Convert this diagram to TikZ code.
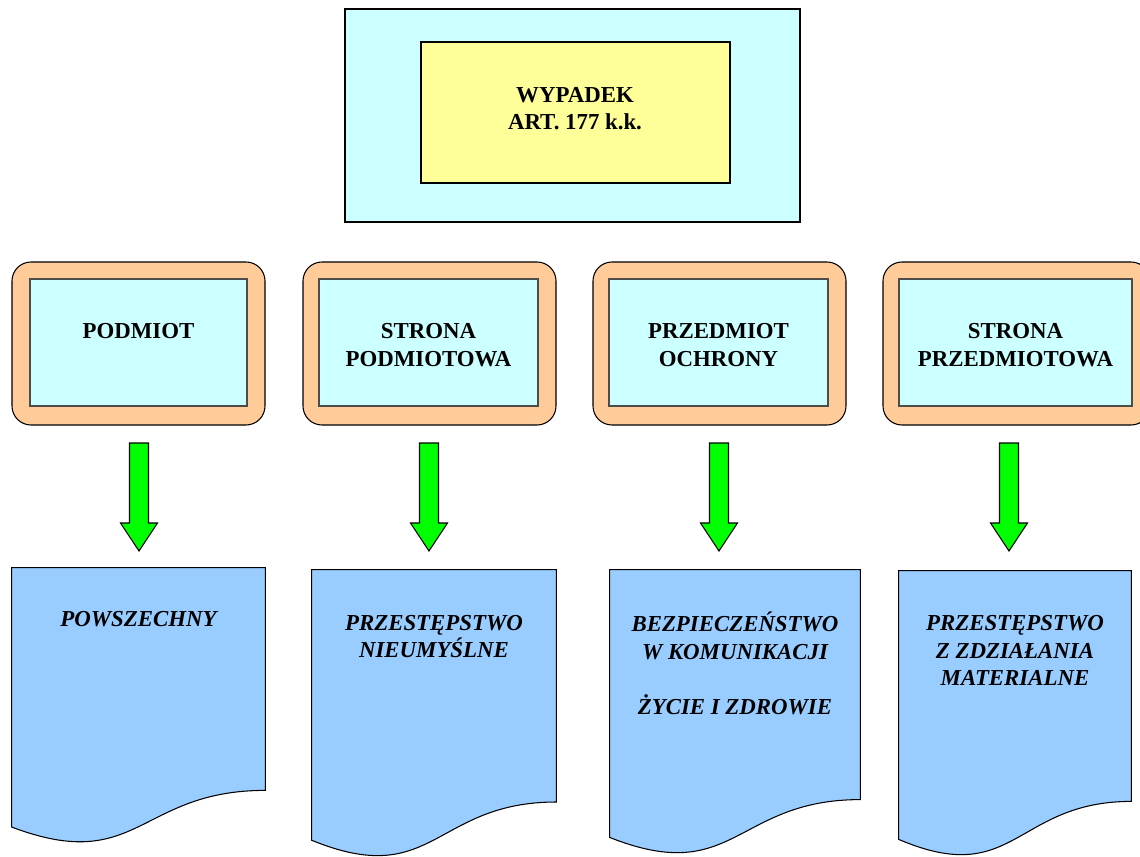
\documentclass[tikz,border=0pt]{standalone}
\usepackage{fontspec}
\setmainfont{Liberation Serif}
\usepackage{tikz}
\usetikzlibrary{positioning, calc}

\definecolor{lightcyan}{HTML}{CCFFFF}
\definecolor{paleyellow}{HTML}{FFFF99}
\definecolor{peach}{HTML}{FFCC99}
\definecolor{skyblue}{HTML}{99CCFF}
\definecolor{brightgreen}{HTML}{00FF00}

\tikzset{
    titlebox/.style={draw, line width=0.6pt, fill=#1},
    framebox/.style={draw, line width=0.6pt, fill=peach, rounded corners=3.8mm,
        minimum height=32.6mm},
    innerbox/.style={draw=black!70, line width=0.6pt, fill=lightcyan,
        minimum height=25.4mm},
    docframe/.style={inner sep=0pt},
    docbox/.style={draw, line width=0.6pt, fill=skyblue},
    greenarrow/.style={draw, line width=0.6pt, fill=brightgreen},
    lbl/.style={anchor=base, align=center, inner sep=0pt,
        font=\fontsize{13}{15.6}\selectfont\bfseries},
    doclbl/.style={lbl, font=\fontsize{13}{15.6}\selectfont\bfseries\itshape}
}

\newcommand{\docshape}[1]{%
    \draw[docbox] (#1.north west) -- (#1.north east)
        -- ($(#1.north east)!0.802!(#1.south east)$)
        .. controls ($(#1.north)!0.802!(#1.south)$) and ($(#1.north)!1.107!(#1.south)$)
        .. ($(#1.north west)!0.934!(#1.south west)$) -- cycle;}

\begin{document}
\begin{tikzpicture}[x=0.2mm, y=-0.2mm]
        \useasboundingbox (0,0) rectangle (1140,857);
        % Title
        \node[titlebox=lightcyan, minimum width=91mm, minimum height=42.6mm] (top) at (572.5,115.5) {};
        \node[titlebox=paleyellow, minimum width=61.8mm, minimum height=28.2mm] (title) at (575.5,112.5) {};
        \node[lbl] (titletxt) at (575,129.5) {WYPADEK\\ART. 177 k.k.};
        % Elements
        \node[framebox, minimum width=50.6mm] (p1) at (138.5,343.5) {};
        \node[framebox, minimum width=50.6mm] (p2) at (429.5,343.5) {};
        \node[framebox, minimum width=50.6mm] (p3) at (719.5,343.5) {};
        \node[framebox, minimum width=53.4mm] (p4) at (1016.5,343.5) {};
        \node[innerbox, minimum width=43.4mm] (i1) at (138.5,342.5) {};
        \node[innerbox, minimum width=43.8mm] (i2) at (428.5,342.5) {};
        \node[innerbox, minimum width=43.8mm] (i3) at (718.5,342.5) {};
        \node[innerbox, minimum width=46.6mm] (i4) at (1015.5,342.5) {};
        \node[lbl] (l1) at (138.5,338.5) {PODMIOT};
        \node[lbl] (l2) at (428.5,366) {STRONA\\PODMIOTOWA};
        \node[lbl] (l3) at (718.5,366) {PRZEDMIOT\\OCHRONY};
        \node[lbl] (l4) at (1015.5,366) {STRONA\\PRZEDMIOTOWA};
        % Arrows
        \foreach \x/\n in {139/1, 429/2, 719/3, 1009/4} {
            \coordinate (a\n) at (\x,443);
            \draw[greenarrow] (a\n) ++(-9.5,0) -- ++(19,0) -- ++(0,80) -- ++(9,0)
                -- ++(-18.5,28) -- ++(-18.5,-28) -- ++(9,0) -- cycle;
        }
        % Documents
        \node[docframe, minimum width=50.6mm, minimum height=55.4mm] (d1) at (138.5,706.5) {};
        \node[docframe, minimum width=48.8mm, minimum height=57.8mm] (d2) at (434,714.5) {};
        \node[docframe, minimum width=50mm, minimum height=57.2mm] (d3) at (735,713) {};
        \node[docframe, minimum width=46.4mm, minimum height=57.4mm] (d4) at (1015,714.5) {};
        \docshape{d1}
        \docshape{d2}
        \docshape{d3}
        \docshape{d4}
        \node[doclbl] (t1) at (138.5,626.5) {POWSZECHNY};
        \node[doclbl] (t2) at (434,657.5) {PRZESTĘPSTWO\\NIEUMYŚLNE};
        \node[doclbl] (t3) at (735,714) {BEZPIECZEŃSTWO\\W KOMUNIKACJI\\[15.6pt]ŻYCIE I ZDROWIE};
        \node[doclbl] (t4) at (1015,685.5) {PRZESTĘPSTWO\\Z ZDZIAŁANIA\\MATERIALNE};
\end{tikzpicture}
\end{document}
